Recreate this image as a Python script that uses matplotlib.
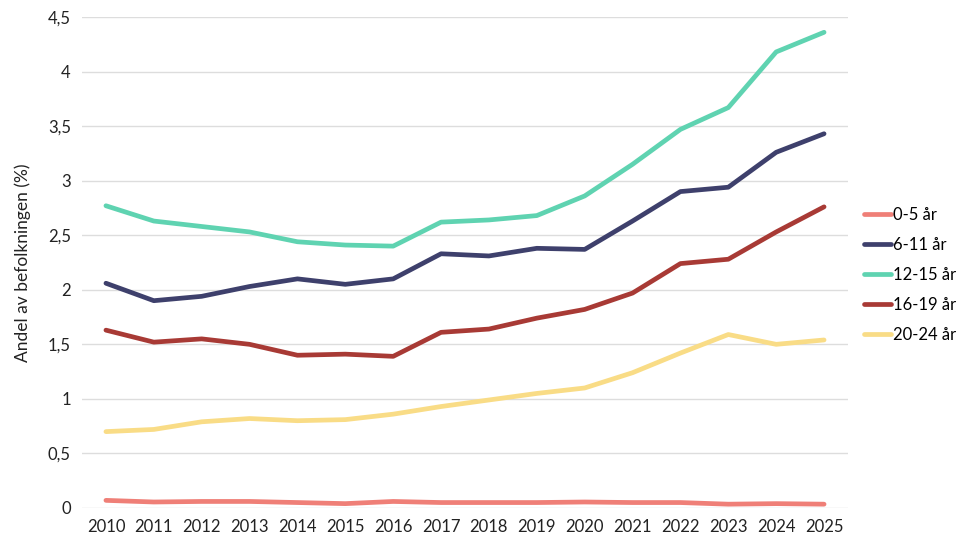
import numpy as np
import matplotlib
matplotlib.use("Agg")
import matplotlib.pyplot as plt

plt.rcParams["font.family"] = ["Lato", "DejaVu Sans"]

years = list(range(2010, 2026))

age_0_5 = [0.07, 0.055, 0.06, 0.06, 0.05, 0.04, 0.06, 0.05, 0.05, 0.05, 0.055, 0.05, 0.05, 0.035, 0.04, 0.035]
age_6_11 = [2.06, 1.90, 1.94, 2.03, 2.10, 2.05, 2.10, 2.33, 2.31, 2.38, 2.37, 2.63, 2.90, 2.94, 3.26, 3.43]
age_12_15 = [2.77, 2.63, 2.58, 2.53, 2.44, 2.41, 2.40, 2.62, 2.64, 2.68, 2.86, 3.15, 3.47, 3.67, 4.18, 4.36]
age_16_19 = [1.63, 1.52, 1.55, 1.50, 1.40, 1.41, 1.39, 1.61, 1.64, 1.74, 1.82, 1.97, 2.24, 2.28, 2.53, 2.76]
age_20_24 = [0.70, 0.72, 0.79, 0.82, 0.80, 0.81, 0.86, 0.93, 0.99, 1.05, 1.10, 1.24, 1.42, 1.59, 1.50, 1.54]

series = [
    ("0-5 år", age_0_5, "#EF7F77"),
    ("6-11 år", age_6_11, "#3E406C"),
    ("12-15 år", age_12_15, "#5FD3B1"),
    ("16-19 år", age_16_19, "#A83A35"),
    ("20-24 år", age_20_24, "#F9DC86"),
]

y_ticks = np.arange(0, 4.51, 0.5)
y_labels = ["0", "0,5", "1", "1,5", "2", "2,5", "3", "3,5", "4", "4,5"]

fig = plt.figure(figsize=(9.7, 5.5), dpi=100)
ax = fig.add_axes([82 / 970, 1 - 508 / 550, (848 - 82) / 970, (508 - 17) / 550])

for label, values, color in series:
    ax.plot(years, values, color=color, linewidth=3.4, label=label, solid_capstyle="round")

ax.set_xlim(2009.5, 2025.5)
ax.set_ylim(0, 4.5)
ax.set_xticks(years)
ax.set_xticklabels([str(y) for y in years], fontsize=12, color="#222222")
ax.set_yticks(y_ticks)
ax.set_yticklabels(y_labels, fontsize=12, color="#222222")
ax.tick_params(length=0, pad=8)
ax.grid(axis="y", color="#DDDDDD", linewidth=1)
ax.set_axisbelow(True)
for s in ax.spines.values():
    s.set_visible(False)

ax.set_ylabel("Andel av befolkningen (%)", fontsize=12.5, color="#222222", labelpad=12)

fig.legend(*ax.get_legend_handles_labels(), loc="center left",
           bbox_to_anchor=(864 / 970, 1 - 275 / 550), frameon=False, fontsize=12,
           handlelength=1.6, handletextpad=0.15, labelspacing=0.85,
           borderaxespad=0, borderpad=0)

fig.savefig("out.png", dpi=100)
